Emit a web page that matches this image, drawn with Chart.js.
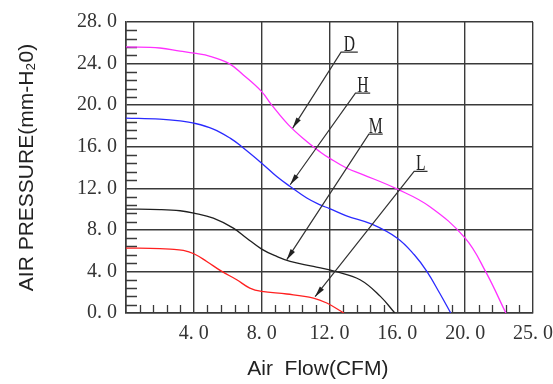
<!DOCTYPE html>
<html><head><meta charset="utf-8">
<script src="https://cdn.jsdelivr.net/npm/chart.js@4.4.1/dist/chart.umd.min.js"></script>
<style>html,body{margin:0;padding:0;background:#fff}</style>
</head><body>
<canvas id="c" width="553" height="384"></canvas>
<script>
// ---- data (Air Flow CFM vs Air Pressure mm-H2O) ----
const seriesNames = ['D', 'H', 'M', 'L'];
const seriesColors = ['#ff30ff', '#2a2aff', '#202020', '#ff2020'];

const dFlow = [0, 2, 3.19, 4, 4.96, 6.04, 6.92, 8, 8.6, 9.58, 10.66, 11.45, 12, 13, 14, 16, 17.9, 20, 21.2, 22.4];
const dPress = [25.6, 25.5, 25.2, 25.0, 24.7, 24.04, 22.9, 21.3, 20.0, 18.1, 16.5, 15.5, 14.9, 13.95, 13.3, 11.92, 10.25, 7.2, 4.0, 0];

const hFlow = [0, 2, 3.19, 4, 5.15, 6.14, 6.83, 8, 8.89, 9.68, 10.66, 11.45, 12, 13, 14.5, 16, 17, 17.74, 18.5, 19.15];
const hPress = [18.75, 18.65, 18.48, 18.27, 17.7, 16.83, 16.0, 14.42, 13.13, 12.17, 11.06, 10.4, 10.05, 9.35, 8.55, 7.2, 5.6, 4.0, 1.9, 0];

const mFlow = [0, 2, 3.19, 4, 5.15, 6.33, 7.12, 8, 8.89, 9.68, 11.05, 12.33, 13.8, 15, 15.85];
const mPress = [10.0, 9.95, 9.84, 9.62, 9.13, 8.17, 7.2, 6.15, 5.44, 4.96, 4.48, 4.0, 3.2, 1.6, 0];

const lFlow = [0, 2, 2.6, 3.38, 4, 4.76, 5.65, 6.53, 7.3, 8, 9.48, 11.05, 11.84, 12.85];
const lPress = [6.25, 6.2, 6.15, 6.02, 5.7, 4.96, 4.0, 3.2, 2.4, 2.08, 1.83, 1.44, 0.96, 0];

const xTickLabels = ['', '4. 0', '8. 0', '12. 0', '16. 0', '20. 0', '25. 0'];
const yTickLabels = ['0. 0', '4. 0', '8. 0', '12. 0', '16. 0', '20. 0', '24. 0', '28. 0'];

// annotation arrows (in data units): underline start/end, arrow tip
const noteStartX = [12.68, 13.53, 14.32, 16.99];
const noteStartY = [25.1, 21.15, 17.21, 13.62];
const noteEndX = [13.67, 14.4, 15.14, 17.78];
const noteTipX = [9.83, 9.68, 9.48, 11.15];
const noteTipY = [17.79, 12.34, 5.13, 1.57];

const flows = [dFlow, hFlow, mFlow, lFlow];
const presses = [dPress, hPress, mPress, lPress];

const datasets = seriesNames.map((n, i) => ({
  label: n,
  data: flows[i].map((x, k) => ({x: x, y: presses[i][k]})),
  borderColor: seriesColors[i],
  borderWidth: 1.3,
  pointRadius: 0,
  fill: false,
  tension: 0.4
}));

const GRID = '#3a3a3a';

const minorTicks = {
  id: 'minorTicks',
  beforeDatasetsDraw(chart) {
    const {ctx, chartArea: a, scales: {x, y}} = chart;
    ctx.save();
    ctx.strokeStyle = GRID;
    ctx.lineWidth = 1.3;
    ctx.beginPath();
    for (let i = 1; i < 35; i++) {
      if (i % 5 === 0) continue;
      const py = Math.round(y.getPixelForValue(i * 0.8)) + 0.5;
      ctx.moveTo(a.left, py); ctx.lineTo(a.left + 11, py);
    }
    for (let i = 1; i < 30; i++) {
      if (i % 5 === 0) continue;
      const px = Math.round(x.getPixelForValue(i * 0.8)) + 0.5;
      ctx.moveTo(px, a.bottom); ctx.lineTo(px, a.bottom - 8);
    }
    ctx.stroke();
    ctx.restore();
  }
};

const notes = {
  id: 'notes',
  afterDatasetsDraw(chart) {
    const {ctx, scales: {x, y}} = chart;
    ctx.save();
    ctx.strokeStyle = '#333';
    ctx.fillStyle = '#222';
    ctx.lineWidth = 1.2;
    seriesNames.forEach((n, i) => {
      const sx = x.getPixelForValue(noteStartX[i]);
      const sy = y.getPixelForValue(noteStartY[i]);
      const ex = x.getPixelForValue(noteEndX[i]);
      const tx = x.getPixelForValue(noteTipX[i]);
      const ty = y.getPixelForValue(noteTipY[i]);
      ctx.beginPath();
      ctx.moveTo(ex, sy); ctx.lineTo(sx, sy); ctx.lineTo(tx, ty);
      ctx.stroke();
      const ang = Math.atan2(ty - sy, tx - sx);
      const L = 11, W = 2.6;
      const bx = tx - L * Math.cos(ang), by = ty - L * Math.sin(ang);
      ctx.beginPath();
      ctx.moveTo(tx, ty);
      ctx.lineTo(bx + W * Math.sin(ang), by - W * Math.cos(ang));
      ctx.lineTo(bx - W * Math.sin(ang), by + W * Math.cos(ang));
      ctx.closePath();
      ctx.fill();
      ctx.save();
      ctx.translate((sx + ex) / 2, sy - 1.5);
      ctx.scale(0.68, 1);
      ctx.font = '23px "Liberation Serif", serif';
      ctx.textAlign = 'center';
      ctx.textBaseline = 'alphabetic';
      ctx.fillText(n, 0, 0);
      ctx.restore();
    });
    ctx.restore();
  }
};

new Chart(document.getElementById('c'), {
  type: 'line',
  data: {datasets: datasets},
  plugins: [minorTicks, notes],
  options: {
    responsive: false,
    animation: false,
    layout: {padding: {top: 22, right: 20, left: 0, bottom: 0}},
    plugins: {legend: {display: false}, tooltip: {enabled: false}},
    scales: {
      x: {
        type: 'linear', min: 0, max: 24,
        afterFit(s) { s.height = 71; s.paddingLeft = 0; s.paddingRight = 0; },
        grid: {color: GRID, lineWidth: 1.4, drawTicks: false},
        border: {color: GRID, width: 1.6},
        ticks: {
          stepSize: 4, padding: 9, maxRotation: 0, autoSkip: false,
          color: '#333',
          font: {family: '"Liberation Serif", serif', size: 20},
          callback: (v) => xTickLabels[Math.round(v / 4)]
        },
        title: {
          display: true, text: 'Air  Flow(CFM)    ',
          color: '#222',
          font: {family: '"Liberation Sans", Arial, sans-serif', size: 21},
          padding: {top: 0, bottom: 2}
        }
      },
      y: {
        type: 'linear', min: 0, max: 28,
        afterFit(s) { s.width = 126; s.paddingTop = 0; s.paddingBottom = 0; },
        grid: {color: GRID, lineWidth: 1.4, drawTicks: false},
        border: {color: GRID, width: 1.6},
        ticks: {
          stepSize: 4, padding: 9,
          color: '#333',
          font: {family: '"Liberation Serif", serif', size: 20},
          callback: (v) => yTickLabels[Math.round(v / 4)]
        },
        title: {
          display: true, text: 'AIR PRESSURE(mm-H\u20820)',
          color: '#222',
          font: {family: '"Liberation Sans", Arial, sans-serif', size: 21},
          padding: {top: 15, bottom: 0}
        }
      }
    }
  }
});
</script>
</body></html>
